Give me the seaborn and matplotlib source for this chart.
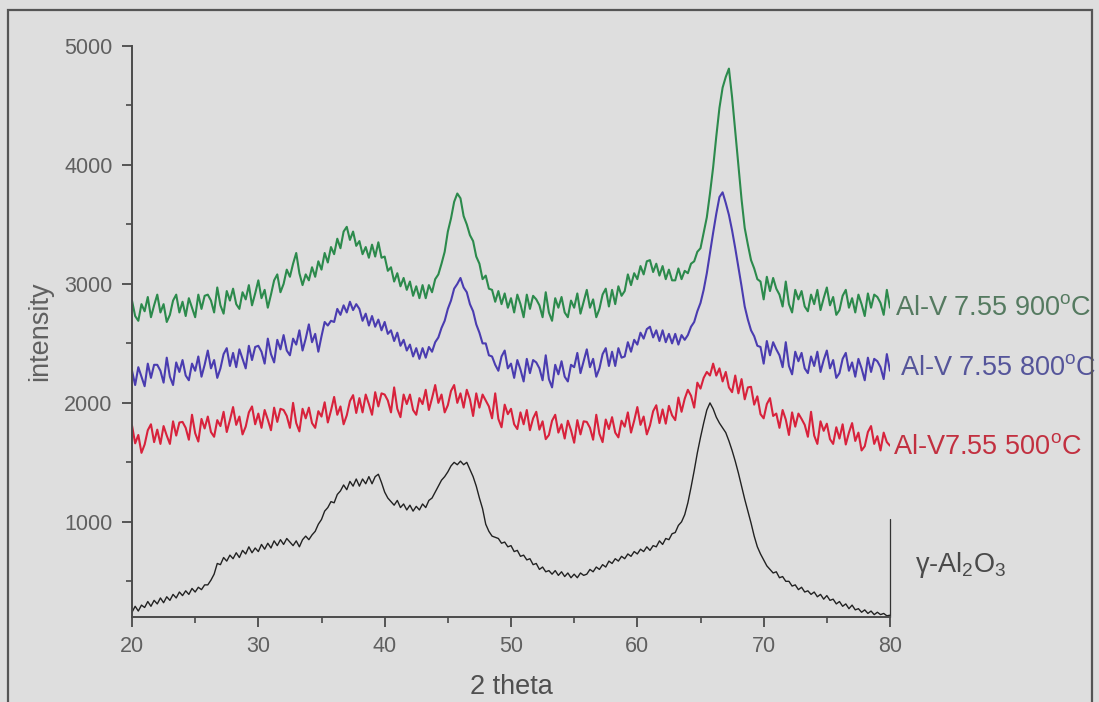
import numpy as np
import pandas as pd
import matplotlib
matplotlib.use("Agg")
import matplotlib.pyplot as plt
import seaborn as sns

# 2-theta scan grid (degrees), 0.25 deg step
two_theta = np.linspace(20, 80, 241)

# Intensities (counts), four values per degree from 20 to 79.75, then 80
al_v_900 = [
    2860, 2730, 2690, 2830, 2770, 2890, 2720, 2820, 2910, 2760, 2830, 2680,
    2740, 2860, 2910, 2760, 2850, 2730, 2880, 2800, 2720, 2910, 2790, 2900,
    2910, 2860, 2760, 2970, 2820, 2750, 2940, 2860, 2960, 2830, 2790, 2930,
    2870, 2990, 2820, 2920, 3030, 2880, 2950, 2800, 2910, 3030, 3080, 2930,
    3000, 3120, 3060, 3170, 3260, 3090, 2990, 3080, 3030, 3140, 3060, 3190,
    3120, 3260, 3180, 3310, 3250, 3380, 3300, 3440, 3480, 3370, 3440, 3320,
    3360, 3250, 3310, 3220, 3330, 3230, 3350, 3220, 3230, 3110, 3140, 3020,
    3090, 2980, 3050, 2950, 3020, 2900, 2980, 2880, 2990, 2880, 2990, 2930,
    3040, 3080, 3170, 3270, 3440, 3550, 3690, 3760, 3720, 3570, 3500, 3410,
    3360, 3230, 3170, 3040, 3070, 2960, 2950, 2850, 2940, 2830, 2920, 2800,
    2880, 2760, 2910, 2830, 2720, 2910, 2790, 2900, 2870, 2820, 2720, 2930,
    2760, 2690, 2880, 2800, 2890, 2760, 2720, 2860, 2800, 2920, 2750, 2850,
    2950, 2800, 2870, 2720, 2790, 2910, 2960, 2810, 2950, 2830, 2980, 2900,
    2940, 3080, 2990, 3090, 3040, 3150, 3080, 3190, 3200, 3100, 3170, 3070,
    3150, 3040, 3120, 3030, 3030, 3130, 3040, 3110, 3090, 3170, 3190, 3270,
    3300, 3430, 3560, 3760, 3980, 4240, 4480, 4650, 4740, 4810, 4570, 4280,
    3980, 3710, 3470, 3330, 3200, 3130, 3040, 3020, 2870, 3060, 2940, 3050,
    2960, 2910, 2810, 3020, 2830, 2760, 2950, 2870, 2940, 2810, 2770, 2910,
    2830, 2950, 2780, 2880, 2970, 2820, 2890, 2740, 2780, 2900, 2950, 2800,
    2880, 2760, 2910, 2830, 2730, 2920, 2800, 2910, 2890, 2840, 2740, 2950,
    2800,
]
al_v_800 = [
    2270, 2150, 2300, 2220, 2140, 2330, 2210, 2320, 2320, 2270, 2170, 2380,
    2220, 2150, 2340, 2260, 2360, 2230, 2190, 2330, 2270, 2390, 2220, 2320,
    2440, 2290, 2360, 2210, 2290, 2410, 2460, 2310, 2420, 2300, 2450, 2370,
    2290, 2480, 2360, 2470, 2480, 2430, 2330, 2540, 2410, 2340, 2530, 2450,
    2570, 2440, 2400, 2540, 2490, 2610, 2440, 2540, 2660, 2510, 2580, 2430,
    2560, 2680, 2650, 2690, 2680, 2790, 2740, 2820, 2760, 2850, 2780, 2830,
    2790, 2690, 2750, 2650, 2730, 2640, 2700, 2610, 2680, 2580, 2610, 2520,
    2590, 2480, 2530, 2440, 2490, 2390, 2460, 2370, 2460, 2380, 2470, 2430,
    2510, 2550, 2630, 2690, 2790, 2860, 2960, 3000, 3050, 2970, 2930, 2830,
    2770, 2660, 2590, 2500, 2500, 2400, 2390, 2320, 2270, 2390, 2440, 2290,
    2330, 2210, 2360, 2280, 2180, 2370, 2250, 2360, 2340, 2290, 2190, 2400,
    2200, 2130, 2320, 2240, 2350, 2220, 2180, 2320, 2300, 2420, 2250, 2350,
    2450, 2300, 2370, 2220, 2290, 2410, 2460, 2310, 2430, 2310, 2460, 2380,
    2390, 2510, 2430, 2530, 2490, 2590, 2540, 2620, 2640, 2550, 2610, 2520,
    2610, 2510, 2580, 2500, 2580, 2490, 2570, 2530, 2570, 2640, 2680, 2770,
    2840, 2950, 3090, 3260, 3430, 3590, 3730, 3770, 3680, 3580, 3450, 3300,
    3140, 2980, 2810, 2700, 2610, 2560, 2480, 2470, 2330, 2520, 2400, 2510,
    2450, 2400, 2300, 2510, 2310, 2240, 2430, 2350, 2420, 2290, 2250, 2390,
    2310, 2430, 2260, 2360, 2440, 2290, 2360, 2210, 2250, 2370, 2420, 2270,
    2340, 2220, 2370, 2290, 2190, 2380, 2260, 2370, 2350, 2300, 2200, 2410,
    2270,
]
al_v_500 = [
    1810, 1660, 1730, 1580, 1650, 1770, 1820, 1670, 1775, 1655, 1805, 1725,
    1655, 1845, 1725, 1835, 1840, 1790, 1690, 1900, 1745, 1675, 1865, 1785,
    1885, 1755, 1715, 1855, 1805, 1925, 1755, 1855, 1965, 1815, 1885, 1735,
    1800, 1920, 1970, 1820, 1910, 1790, 1940, 1860, 1770, 1960, 1840, 1950,
    1940, 1890, 1790, 2000, 1830, 1760, 1950, 1870, 1960, 1830, 1790, 1930,
    1885, 2005, 1835, 1935, 2050, 1900, 1970, 1820, 1895, 2015, 2065, 1915,
    2040, 1920, 2070, 1990, 1900, 2090, 1970, 2080, 2070, 2020, 1920, 2130,
    1950, 1880, 2070, 1990, 2070, 1940, 1900, 2040, 1990, 2110, 1940, 2040,
    2150, 2000, 2070, 1920, 1980, 2100, 2150, 2000, 2080, 1960, 2110, 2030,
    1890, 2080, 1960, 2070, 2020, 1970, 1870, 2080, 1865, 1795, 1985, 1905,
    1950, 1820, 1780, 1920, 1820, 1940, 1770, 1870, 1925, 1775, 1845, 1695,
    1730, 1850, 1900, 1750, 1820, 1700, 1850, 1770, 1665, 1855, 1735, 1845,
    1840, 1790, 1690, 1900, 1740, 1670, 1860, 1780, 1880, 1750, 1710, 1850,
    1800, 1920, 1750, 1850, 1965, 1815, 1885, 1735, 1810, 1930, 1980, 1830,
    1945, 1825, 1975, 1895, 1855, 2045, 1925, 2035, 2110, 2060, 1960, 2170,
    2120, 2210, 2260, 2230, 2330, 2230, 2290, 2180, 2260, 2130, 2090, 2230,
    2080, 2200, 2030, 2130, 2135, 1985, 2055, 1905, 1870, 1990, 2040, 1890,
    1910, 1790, 1940, 1860, 1730, 1920, 1800, 1910, 1865, 1815, 1715, 1925,
    1725, 1655, 1845, 1765, 1825, 1695, 1655, 1795, 1700, 1820, 1650, 1750,
    1830, 1680, 1750, 1600, 1635, 1755, 1805, 1655, 1720, 1600, 1750, 1670,
    1640,
]
gamma_al2o3 = [
    240, 290, 250, 300, 280, 330, 290, 340, 310, 360, 320, 370,
    340, 390, 360, 410, 380, 420, 390, 440, 410, 450, 430, 470,
    470, 510, 560, 650, 640, 700, 670, 720, 690, 740, 700, 760,
    730, 790, 740, 780, 750, 810, 770, 820, 780, 840, 800, 850,
    810, 860, 830, 800, 840, 790, 850, 880, 850, 890, 920, 980,
    1020, 1090, 1120, 1170, 1160, 1230, 1260, 1310, 1270, 1340, 1300, 1360,
    1300, 1360, 1320, 1380, 1320, 1380, 1400, 1330, 1250, 1200, 1170, 1140,
    1180, 1120, 1150, 1100, 1140, 1090, 1130, 1100, 1150, 1120, 1180, 1200,
    1250, 1300, 1350, 1380, 1420, 1470, 1500, 1480, 1510, 1480, 1500, 1440,
    1380, 1300, 1200, 1110, 980, 920, 880, 870, 860, 820, 830, 790,
    800, 750, 760, 710, 720, 680, 690, 640, 650, 600, 620, 580,
    590, 560, 590, 550, 580, 540, 570, 530, 560, 530, 570, 550,
    560, 600, 580, 620, 600, 640, 620, 670, 650, 690, 670, 710,
    690, 730, 710, 750, 730, 770, 750, 790, 760, 800, 790, 840,
    810, 860, 850, 900, 910, 970, 1000, 1060, 1160, 1290, 1430, 1580,
    1710, 1830, 1940, 2000, 1950, 1880, 1830, 1790, 1750, 1680, 1600, 1510,
    1410, 1300, 1190, 1090, 990, 880, 790, 730, 680, 630, 600, 570,
    580, 530, 540, 500, 500, 460, 470, 430, 450, 410, 420, 390,
    410, 370, 390, 350, 380, 340, 350, 310, 330, 290, 310, 270,
    300, 260, 270, 240, 260, 230, 250, 220, 240, 220, 230, 210,
    215,
]

samples = ["Al-V 7.55 900", "Al-V 7.55 800", "Al-V7.55 500", "gamma-Al2O3"]
series = [al_v_900, al_v_800, al_v_500, gamma_al2o3]
line_colors = ["#2c8a4c", "#4a3cb0", "#d8223c", "#222222"]
line_widths = [1.5, 1.5, 1.5, 1.0]

df = pd.concat(
    [pd.DataFrame({"two_theta": two_theta, "intensity": vals, "sample": name})
     for name, vals in zip(samples, series)],
    ignore_index=True,
)

sns.set_theme(style="ticks")
plt.rcParams["font.family"] = ["Liberation Sans", "DejaVu Sans"]
plt.rcParams["mathtext.default"] = "regular"

bg = "#dedede"
fig = plt.figure(figsize=(10.99, 7.02), dpi=100, facecolor=bg)
ax = fig.add_axes([132 / 1099, 1 - 617 / 702, (890 - 132) / 1099, (617 - 46) / 702])
ax.set_facecolor(bg)

for name, col, lw in zip(samples, line_colors, line_widths):
    sns.lineplot(
        data=df[df["sample"] == name], x="two_theta", y="intensity",
        color=col, estimator=None, sort=False, linewidth=lw, ax=ax,
    )

ax.set_xlim(20, 80)
ax.set_ylim(200, 5000)
ax.set_xticks([20, 30, 40, 50, 60, 70, 80])
ax.set_xticks([25, 35, 45, 55, 65, 75], minor=True)
ax.set_yticks([1000, 2000, 3000, 4000, 5000])
ax.set_yticks([500, 1500, 2500, 3500, 4500], minor=True)

spine_col = "#4a4a4a"
for side in ["top", "right"]:
    ax.spines[side].set_visible(False)
for side in ["left", "bottom"]:
    ax.spines[side].set_color(spine_col)
    ax.spines[side].set_linewidth(1.4)
ax.tick_params(axis="both", which="major", direction="out", length=7, width=1.3,
               color=spine_col, labelsize=15.5, labelcolor="#606060", pad=7)
ax.tick_params(axis="both", which="minor", direction="out", length=4.5, width=1.2,
               color=spine_col)

ax.set_xlabel("2 theta", fontsize=19.5, color="#505050", labelpad=12)
ax.set_ylabel("intensity", fontsize=19.5, color="#606060", labelpad=8)

# marker line at the end of the gamma-alumina scan
ax.plot([80, 80], [200, 1020], color="#333333", lw=0.9, clip_on=False)

# series labels
lab_kw = dict(fontsize=19.5, va="center", ha="left", clip_on=False)
ax.text(80.4, 2800, "Al-V 7.55 900$^o$C", color="#557a60", **lab_kw)
ax.text(80.8, 2290, "Al-V 7.55 800$^o$C", color="#55559a", **lab_kw)
ax.text(80.2, 1630, "Al-V7.55 500$^o$C", color="#c23040", **lab_kw)
ax.text(82.0, 640, "\u03b3-Al$_2$O$_3$", color="#4a4a4a", **lab_kw)

# outer frame
fig.add_artist(plt.Rectangle((8 / 1099, -0.05), (1092 - 8) / 1099, 1 - 10 / 702 + 0.05,
                             transform=fig.transFigure, fill=False,
                             edgecolor="#555555", lw=1.6, zorder=10))

fig.savefig("out.png", dpi=100, facecolor=bg)
